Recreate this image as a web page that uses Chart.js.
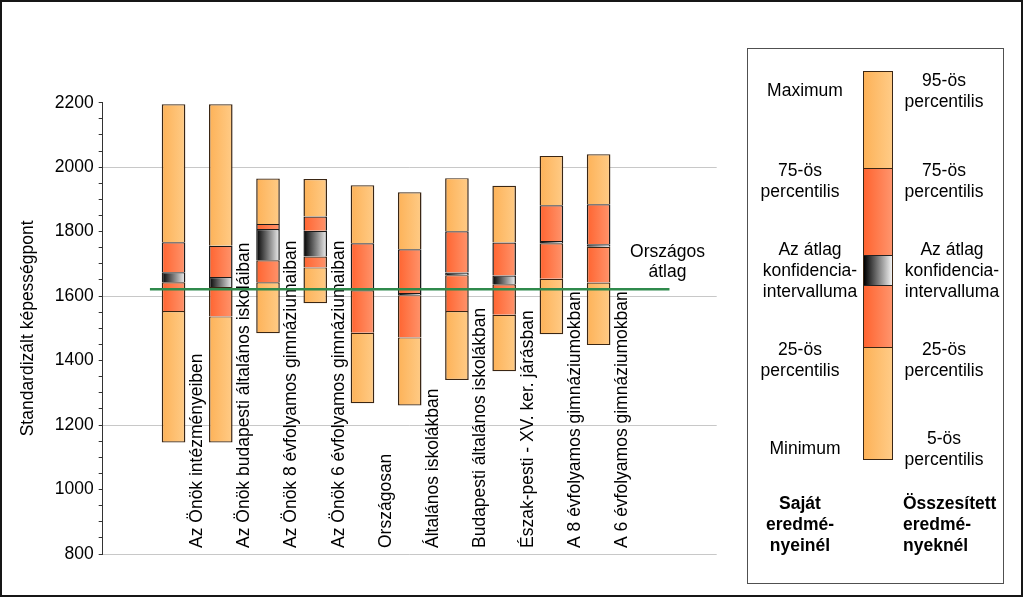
<!DOCTYPE html>
<html lang="hu">
<head>
<meta charset="utf-8">
<title>Standardizált képességpont</title>
<script src="https://cdn.jsdelivr.net/npm/chart.js@4.4.1/dist/chart.umd.min.js"></script>
<style>
  html, body { margin: 0; padding: 0; background: #fff; }
  #wrap { position: relative; width: 1024px; height: 597px; overflow: hidden;
          font-family: "Liberation Sans", Arial, sans-serif; font-size: 17.5px; color: #000; }
  #chart { position: absolute; left: 0; top: 0; }
  #frame { position: absolute; left: 0; top: 0; width: 1023px; height: 597px; box-sizing: border-box;
           border: 2px solid #161616; pointer-events: none; }
  #legend { position: absolute; left: 747px; top: 48px; width: 257px; height: 536px; box-sizing: border-box;
            border: 1px solid #505050; }
  .lbl { position: absolute; width: 200px; line-height: 21px; text-align: center; white-space: nowrap; }
  .bold { font-weight: bold; line-height: 21px; }
  #lbar { position: absolute; left: 863px; top: 71px; width: 30px; height: 389px; box-sizing: border-box;
          border: 1px solid #3a2614; }
  #lbar div { position: absolute; left: 0; right: 0; box-sizing: border-box; }
  .light { background: linear-gradient(to right, #fdb258, #ffcb86); }
  .red { background: linear-gradient(to right, #ff6430, #ff946c); }
  .ci { background: linear-gradient(to right, #000, #f2f2f2); }
</style>
</head>
<body>
<div id="wrap">
  <canvas id="chart" width="740" height="597"></canvas>

  <div id="legend"></div>
  <div id="lbar">
    <div class="light" style="top:0; height:96px;"></div>
    <div class="red" style="top:96px; height:87px; border-top:1px solid #3a2614;"></div>
    <div class="ci" style="top:183px; height:30px; border-top:1px solid #222;"></div>
    <div class="red" style="top:213px; height:62px; border-top:1px solid #222;"></div>
    <div class="light" style="top:275px; height:112px; border-top:1px solid #3a2614;"></div>
  </div>

  <div class="lbl" style="left:705px; top:80px;">Maximum</div>
  <div class="lbl" style="left:700px; top:160px;">75-ös<br>percentilis</div>
  <div class="lbl" style="left:710px; top:239px;">Az átlag<br>konfidencia-<br>intervalluma</div>
  <div class="lbl" style="left:700px; top:339px;">25-ös<br>percentilis</div>
  <div class="lbl" style="left:705px; top:438px;">Minimum</div>
  <div class="lbl bold" style="left:700px; top:493px;">Saját<br>eredmé-<br>nyeinél</div>

  <div class="lbl" style="left:844px; top:70px;">95-ös<br>percentilis</div>
  <div class="lbl" style="left:844px; top:160px;">75-ös<br>percentilis</div>
  <div class="lbl" style="left:852px; top:239px;">Az átlag<br>konfidencia-<br>intervalluma</div>
  <div class="lbl" style="left:844px; top:339px;">25-ös<br>percentilis</div>
  <div class="lbl" style="left:844px; top:428px;">5-ös<br>percentilis</div>
  <div class="lbl bold" style="left:903px; top:493px; width:auto; text-align:left;">Összesített<br>eredmé-<br>nyeknél</div>

  <div id="frame"></div>
</div>

<script>
var categories = [
  'Az Önök intézményeiben',
  'Az Önök budapesti általános iskoláiban',
  'Az Önök 8 évfolyamos gimnáziumaiban',
  'Az Önök 6 évfolyamos gimnáziumaiban',
  'Országosan',
  'Általános iskolákban',
  'Budapesti általános iskolákban',
  'Észak-pesti - XV. ker. járásban',
  'A 8 évfolyamos gimnáziumokban',
  'A 6 évfolyamos gimnáziumokban'
];
var minVals  = [1146, 1146, 1485, 1578, 1268, 1261, 1340, 1367, 1482, 1448];
var q25Vals  = [1554, 1537, 1643, 1689, 1486, 1472, 1554, 1542, 1654, 1642];
var ciLow    = [1643, 1628, 1711, 1723, 1618, 1603, 1665, 1637, 1764, 1753];
var ciHigh   = [1674, 1659, 1808, 1803, 1624, 1610, 1673, 1664, 1771, 1761];
var q75Vals  = [1767, 1756, 1824, 1847, 1764, 1745, 1801, 1766, 1882, 1885];
var maxVals  = [2195, 2195, 1965, 1963, 1944, 1922, 1966, 1942, 2035, 2040];
var nationalMean = 1621;
var yTicks = [800, 1000, 1200, 1400, 1600, 1800, 2000, 2200];

var FONT = '"Liberation Sans", Arial, sans-serif';
var BAR_SHARE = 0.5;
Chart.defaults.font.family = FONT;
Chart.defaults.font.size = 17.5;
Chart.defaults.color = '#000';

// one empty slot before the bars and two after, as in the original plot area
var labels = [''].concat(categories, ['', '']);

function pad(arr) {
  return [null].concat(arr, [null, null]);
}
function span(a, b) {
  return pad(a.map(function (v, i) { return [v, b[i]]; }));
}

function shade(from, to) {
  return function (c) {
    var chart = c.chart, x = chart.scales.x;
    if (!chart.chartArea || !x || c.type !== 'data') return from;
    var cx = x.getPixelForValue(c.dataIndex);
    var half = (x.getPixelForValue(1) - x.getPixelForValue(0)) * BAR_SHARE / 2;
    var g = chart.ctx.createLinearGradient(cx - half, 0, cx + half, 0);
    g.addColorStop(0, from);
    g.addColorStop(1, to);
    return g;
  };
}

function barSet(data, from, to, skip, edge) {
  return {
    type: 'bar',
    data: data,
    grouped: false,
    order: 1,
    barPercentage: BAR_SHARE,
    categoryPercentage: 1,
    inflateAmount: 0,
    backgroundColor: shade(from, to),
    borderColor: edge || '#3a2614',
    borderWidth: { top: 1.2, bottom: 1.2, left: 1.5, right: 1.5 },
    borderSkipped: skip
  };
}

var catLabels = {
  id: 'catLabels',
  beforeDatasetsDraw: function (chart) {
    var ctx = chart.ctx, x = chart.scales.x;
    ctx.save();
    ctx.font = '17.5px ' + FONT;
    ctx.fillStyle = '#000';
    ctx.textAlign = 'left';
    ctx.textBaseline = 'middle';
    categories.forEach(function (c, i) {
      ctx.save();
      ctx.translate(x.getPixelForValue(i + 1.5), chart.chartArea.bottom - 6);
      ctx.rotate(-Math.PI / 2);
      ctx.fillText(c, 0, 0);
      ctx.restore();
    });
    ctx.restore();
  },
  afterDatasetsDraw: function (chart) {
    var ctx = chart.ctx;
    var px = chart.scales.x2.getPixelForValue(11.5) - 2;
    var py = chart.scales.y.getPixelForValue(nationalMean);
    ctx.save();
    ctx.font = '17.5px ' + FONT;
    ctx.fillStyle = '#000';
    ctx.textAlign = 'center';
    ctx.textBaseline = 'middle';
    ctx.fillText('Országos', px, py - 37);
    ctx.fillText('átlag', px, py - 17);
    ctx.restore();
  }
};

new Chart(document.getElementById('chart'), {
  data: {
    labels: labels,
    datasets: [
      barSet(span(minVals, q25Vals), '#fdb258', '#ffcb86', false),
      barSet(span(q25Vals, ciLow), '#ff6430', '#ff946c', 'bottom'),
      barSet(span(ciLow, ciHigh), '#000000', '#f2f2f2', 'bottom', '#1a1a1a'),
      barSet(span(ciHigh, q75Vals), '#ff6430', '#ff946c', 'bottom', '#1a1a1a'),
      barSet(span(q75Vals, maxVals), '#fdb258', '#ffcb86', 'bottom'),
      {
        type: 'line',
        xAxisID: 'x2',
        order: 0,
        data: [{ x: 0.5, y: nationalMean }, { x: 11.5, y: nationalMean }],
        borderColor: '#2f8a4c',
        borderWidth: 2.5,
        pointRadius: 0
      }
    ]
  },
  options: {
    responsive: false,
    animation: false,
    layout: { padding: { top: 102.7, right: 23.3, bottom: 43, left: 0 } },
    plugins: { legend: { display: false }, tooltip: { enabled: false } },
    scales: {
      x: {
        type: 'category',
        display: false,
        offset: true
      },
      x2: {
        type: 'linear',
        display: false,
        min: -0.5,
        max: 12.5
      },
      y: {
        min: 800,
        max: 2200,
        afterFit: function (s) { s.width = 102.7; },
        ticks: {
          stepSize: 50,
          autoSkip: false,
          padding: 5,
          color: '#000',
          callback: function (v) { return yTicks.indexOf(v) >= 0 ? String(v) : ''; }
        },
        grid: {
          color: function (c) {
            return c.tick && c.tick.value % 400 === 0 ? '#c8c8c8' : 'rgba(0,0,0,0)';
          },
          tickColor: '#333',
          tickLength: 4
        },
        border: { color: '#333', width: 1 },
        title: {
          display: true,
          text: 'Standardizált képességpont',
          color: '#000',
          padding: { top: 17.5, bottom: 0 }
        }
      }
    }
  },
  plugins: [catLabels]
});
</script>
</body>
</html>
